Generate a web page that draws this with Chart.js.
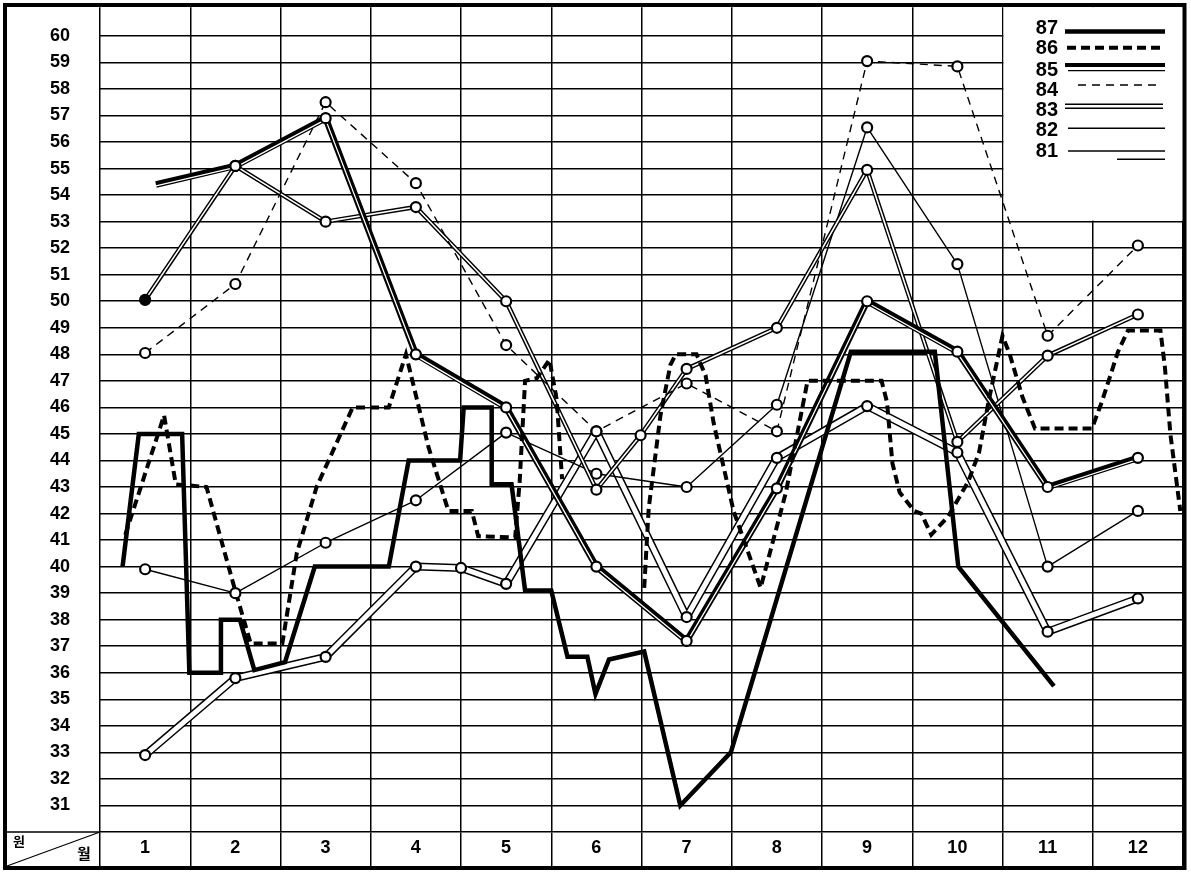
<!DOCTYPE html>
<html>
<head>
<meta charset="utf-8">
<script src="https://cdn.jsdelivr.net/npm/chart.js@4.4.1/dist/chart.umd.min.js"></script>
<style>
  html, body { margin: 0; padding: 0; background: #fff; }
  #wrap { width: 1191px; height: 872px; position: relative; }
</style>
</head>
<body>
<div id="wrap"><canvas id="myChart"></canvas></div>
<script>
// 월 / 눈금
var monthLabels = [1, 2, 3, 4, 5, 6, 7, 8, 9, 10, 11, 12];
var yTicks = [31, 32, 33, 34, 35, 36, 37, 38, 39, 40, 41, 42, 43, 44, 45, 46, 47, 48, 49, 50,
              51, 52, 53, 54, 55, 56, 57, 58, 59, 60];
var seriesNames = ['87', '86', '85', '84', '83', '82', '81'];

// 87년 (순별 변동)
var x87 = [0.75, 0.93, 1.41, 1.49, 1.83, 1.84, 2.05, 2.21, 2.55, 2.88, 3.70, 3.92, 4.49, 4.53, 4.84,
           4.84, 5.06, 5.21, 5.50, 5.68, 5.90, 5.99, 6.14, 6.53, 6.93, 7.49, 8.82, 9.75, 10.01, 11.07];
var y87 = [40, 45, 45, 36, 36, 38, 38, 36.1, 36.4, 40, 40, 44, 44, 46, 46,
           43.1, 43.1, 39.1, 39.1, 36.6, 36.6, 35.2, 36.5, 36.8, 31, 33, 48.1, 48.1, 40, 35.5];

// 86년 (순별 변동, 6월 중 끊김)
var x86 = [0.78, 1.21, 1.34, 1.68, 1.99, 2.17, 2.52, 2.68, 2.90, 3.30, 3.70, 3.89, 4.14, 4.36, 4.62,
           4.69, 5.10, 5.15, 5.21, 5.34, 5.48, 5.56, 5.62, 6.00, 6.53, 6.58, 6.71, 6.82, 6.88, 7.11,
           7.21, 7.30, 7.52, 7.82, 8.10, 8.34, 9.16, 9.22, 9.28, 9.36, 9.52, 9.60, 9.71, 9.90, 10.12,
           10.24, 10.35, 10.50, 10.58, 10.72, 10.86, 11.49, 11.60, 11.78, 11.89, 12.25, 12.30, 12.36, 12.47];
var y86 = [41.2, 45.7, 43.1, 43.0, 39.2, 37.1, 37.1, 40.5, 43.0, 46.0, 46.0, 48.0, 44.5, 42.1, 42.1,
           41.15, 41.1, 43.2, 47.0, 47.1, 47.8, 46.3, 43.3, null, 39.2, 42.2, 45.7, 47.6, 48.0, 48.0,
           47.2, 45.4, 42.1, 39.2, 42.8, 47.0, 47.0, 46.2, 43.9, 42.8, 42.1, 42.0, 41.2, 41.9, 43.2,
           44.3, 46.3, 48.7, 48.0, 46.4, 45.2, 45.2, 46.2, 48.1, 48.9, 48.9, 47.5, 45.0, 42.1];

// 85년
var x85 = [1.12, 2, 3, 4, 5, 6, 7, 8, 9, 10, 11, 12];
var y85 = [54.4, 55.1, 56.9, 48.0, 46.0, 40.0, 37.2, 42.95, 50.0, 48.1, 43.0, 44.1];

// 84년
var y84 = [48.05, 50.65, 57.5, 54.45, 48.35, 45.1, 46.9, 45.1, 59.05, 58.85, 48.7, 52.1];

// 83년
var x83 = [1, 2, 3, 4, 5, 6, 6.49, 7, 8, 9, 10, 11, 12];
var y83 = [50.05, 55.1, 53.0, 53.55, 50.0, 42.9, 44.95, 47.45, 49.0, 54.95, 44.7, 47.95, 49.5];

// 82년
var y82 = [39.9, 39.0, 40.9, 42.5, 45.05, 43.5, 43.0, 46.1, 56.55, 51.4, 40.0, 42.1];

// 81년
var x81 = [1, 2, 3, 4, 4.5, 5, 6, 7, 8, 9, 10, 11, 12];
var y81 = [32.9, 35.8, 36.6, 40.0, 39.95, 39.35, 45.1, 38.1, 44.1, 46.05, 44.3, 37.55, 38.8];

var FONT = "'Liberation Sans', Arial, sans-serif";
Chart.defaults.font.family = FONT;
Chart.defaults.color = '#000';

function pts(xs, ys) {
  return xs.map(function (x, i) { return { x: x, y: ys[i] }; });
}

function lineSet(label, data, width, color, order, extra) {
  var ds = {
    label: label, data: data, borderColor: color, borderWidth: width,
    pointRadius: 0, pointHitRadius: 0, tension: 0, order: order,
    borderJoinStyle: 'round', fill: false
  };
  return Object.assign(ds, extra || {});
}

function markerSet(label, data, extra) {
  var ds = {
    label: label, data: data, showLine: false, order: 0,
    pointRadius: 5, pointBorderWidth: 2.2, pointBorderColor: '#000', pointBackgroundColor: '#fff'
  };
  return Object.assign(ds, extra || {});
}

var datasets = [
  lineSet('87', pts(x87, y87), 4.5, '#000', 1, { borderJoinStyle: 'miter' }),
  lineSet('86', pts(x86, y86), 4, '#000', 2, { borderDash: [9, 5], borderJoinStyle: 'miter' }),
  lineSet('85', pts(x85, y85), 6.5, '#000', 4),
  lineSet('85 s', pts(x85, y85), 1.3, '#fff', 3, { shiftY: 1.5 }),
  lineSet('84', pts(monthLabels, y84), 1.4, '#000', 5, { borderDash: [8, 6] }),
  lineSet('83', pts(x83, y83), 4.5, '#000', 7),
  lineSet('83 s', pts(x83, y83), 1.6, '#fff', 6),
  lineSet('82', pts(monthLabels, y82), 1.4, '#000', 8),
  lineSet('81', pts(x81, y81), 8, '#000', 10),
  lineSet('81 s', pts(x81, y81), 5, '#fff', 9),
  markerSet('85 m', pts(x85.slice(1), y85.slice(1))),
  markerSet('84 m', pts(monthLabels, y84)),
  markerSet('83 m', pts(x83, y83), {
    pointBackgroundColor: function (c) { return c.dataIndex === 0 ? '#000' : '#fff'; }
  }),
  markerSet('82 m', pts(monthLabels, y82)),
  markerSet('81 m', pts(x81, y81))
];

function seg(c, x1, x2, y, w, dash) {
  c.lineWidth = w;
  c.setLineDash(dash || []);
  c.beginPath();
  c.moveTo(x1, y);
  c.lineTo(x2, y);
  c.stroke();
}

var framePlugin = {
  id: 'frame',
  beforeDatasetsDraw: function (chart) {
    // 범례 자리: 격자를 지운다
    var c = chart.ctx, area = chart.chartArea;
    var left = chart.scales.x.getPixelForValue(10.5);
    var bottom = chart.scales.y.getPixelForValue(53);
    c.save();
    c.fillStyle = '#fff';
    c.fillRect(left + 1, area.top, area.right - left, bottom - area.top - 1);
    c.restore();
  },
  beforeDatasetDraw: function (chart, args) {
    var ds = chart.data.datasets[args.index];
    if (ds.shiftY) {
      chart.ctx.save();
      chart.ctx.translate(0, ds.shiftY);
    }
  },
  afterDatasetDraw: function (chart, args) {
    var ds = chart.data.datasets[args.index];
    if (ds.shiftY) chart.ctx.restore();
  },
  afterDraw: function (chart) {
    var c = chart.ctx, area = chart.chartArea;
    var y30 = chart.scales.y.getPixelForValue(30);
    c.save();
    c.strokeStyle = '#000';
    c.fillStyle = '#000';

    // 왼쪽 아래 칸
    seg(c, 5, area.left, y30, 1.5);
    c.lineWidth = 1.2;
    c.beginPath();
    c.moveTo(7, chart.height - 6);
    c.lineTo(area.left, y30);
    c.stroke();
    c.textAlign = 'left';
    c.textBaseline = 'top';
    c.font = "bold 13px 'Noto Sans CJK KR'";
    c.fillText('원', 13, y30 + 3);
    c.font = "bold 15px 'Noto Sans CJK KR'";
    c.fillText('월', 77, y30 + 14);

    // 테두리
    c.lineWidth = 4;
    c.strokeRect(5, 5, 1179.5, 863);

    // 범례
    var ty = [27, 47.5, 69, 89, 109, 129, 150.5];
    c.font = 'bold 20px ' + FONT;
    c.textAlign = 'right';
    c.textBaseline = 'middle';
    seriesNames.forEach(function (n, i) { c.fillText(n, 1058, ty[i] + 1); });
    seg(c, 1065, 1165, 31.5, 4.5);
    seg(c, 1067, 1163, 47.7, 4, [9, 5]);
    seg(c, 1065, 1165, 65, 4);
    seg(c, 1068, 1165, 70.7, 1.3);
    seg(c, 1078, 1162, 85, 1.4, [8, 6]);
    seg(c, 1065, 1163, 104.3, 1.4);
    seg(c, 1065, 1163, 108.3, 1.4);
    seg(c, 1068, 1165, 128.3, 1.4);
    seg(c, 1068, 1165, 151, 1.4);
    seg(c, 1117, 1165, 159.3, 1.4);
    c.restore();
  }
};

var ctx = document.getElementById('myChart').getContext('2d');
var myChart = new Chart(ctx, {
  type: 'line',
  data: { datasets: datasets },
  plugins: [framePlugin],
  options: {
    responsive: true,
    maintainAspectRatio: false,
    animation: false,
    layout: { padding: { left: 5, right: 8, top: 5, bottom: 4 } },
    plugins: { legend: { display: false }, tooltip: { enabled: false } },
    scales: {
      x: {
        type: 'linear', min: 0.5, max: 12.5,
        afterBuildTicks: function (s) { s.ticks = monthLabels.map(function (v) { return { value: v }; }); },
        afterFit: function (s) { s.height = 36; s.paddingLeft = 0; s.paddingRight = 0; },
        grid: { offset: true, color: '#000', lineWidth: 1.5, drawTicks: true, tickLength: 36, tickColor: '#000', tickWidth: 1.5 },
        border: { display: true, color: '#000', width: 1.6 },
        ticks: {
          font: { family: FONT, size: 18, weight: 'bold' }, color: '#000',
          padding: -31, maxRotation: 0, autoSkip: false,
          callback: function (v) { return String(v); }
        }
      },
      y: {
        type: 'linear', min: 30, max: 61.08,
        afterBuildTicks: function (s) { s.ticks = yTicks.map(function (v) { return { value: v }; }); },
        afterFit: function (s) { s.width = 95; s.paddingTop = 0; s.paddingBottom = 0; },
        grid: { color: '#000', lineWidth: 1.5, drawTicks: false },
        border: { display: false },
        ticks: {
          font: { family: FONT, size: 18, weight: 'bold' }, color: '#000',
          crossAlign: 'center', padding: 30, autoSkip: false,
          callback: function (v) { return String(v); }
        }
      }
    }
  }
});
</script>
</body>
</html>
